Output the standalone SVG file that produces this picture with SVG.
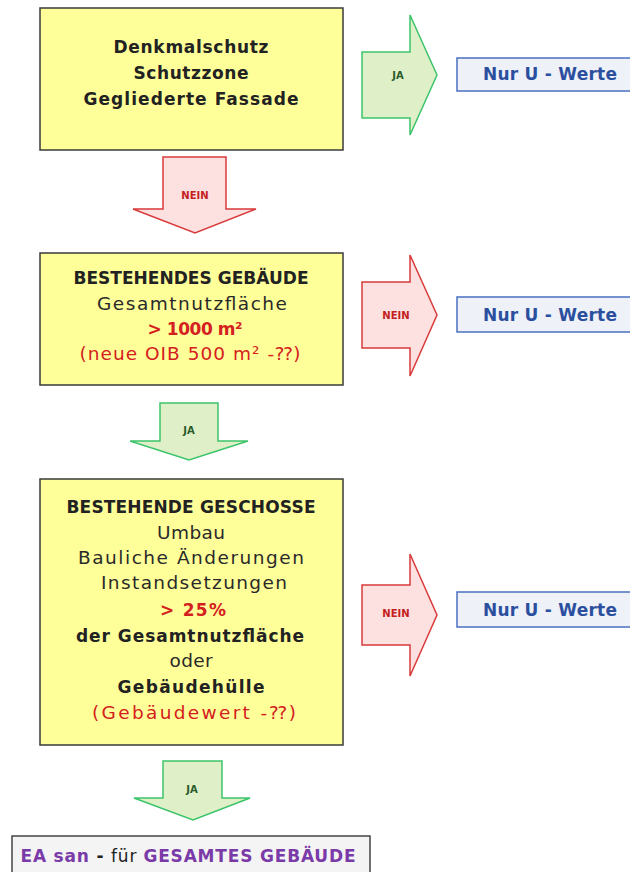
<svg xmlns="http://www.w3.org/2000/svg" width="630" height="872" viewBox="0 0 630 872">
<style>
.box{fill:#ffff99;stroke:#3a3a3a;stroke-width:1.5}
.res{fill:#eef1f8;stroke:#4a70c0;stroke-width:1.5}
.ga{fill:#dff0c8;stroke:#3cc46a;stroke-width:1.5;stroke-linejoin:miter}
.ra{fill:#fde0e0;stroke:#d93a3a;stroke-width:1.5}
text{font-family:"DejaVu Sans","Liberation Sans",sans-serif;text-anchor:middle}
.t{font-size:17px;fill:#222}
.r{font-size:18.5px;fill:#2a2a2a}
.b{font-weight:bold}
.red{fill:#d42020}
.blue{font-size:17px;font-weight:bold;fill:#2b4f9e}
.lbl{font-size:10px;font-weight:bold}
.glbl{fill:#2a5a2a}
.rlbl{fill:#c42020}
.pur{fill:#7a3aa8}
</style>
<g id="connectors">
<g id="arrow-ja-1"><path class="ga" d="M362,52 H410 V15 L437,75 L410,135 V118 H362 Z"/><text class="lbl glbl" x="398" y="79">JA</text></g>
<g id="arrow-nein-1"><path class="ra" d="M163,157 H226 V209 H256 L195,233 L133,209 H163 Z"/><text class="lbl rlbl" x="195" y="199">NEIN</text></g>
<g id="arrow-nein-2"><path class="ra" d="M362,282 H410 V255 L437,315 L410,376 V348 H362 Z"/><text class="lbl rlbl" x="396" y="319">NEIN</text></g>
<g id="arrow-ja-2"><path class="ga" d="M160,403 H218 V441 H248 L189,460 L130,441 H160 Z"/><text class="lbl glbl" x="189" y="434">JA</text></g>
<g id="arrow-nein-3"><path class="ra" d="M362,585 H410 V554 L437,615 L410,676 V645 H362 Z"/><text class="lbl rlbl" x="396" y="617">NEIN</text></g>
<g id="arrow-ja-3"><path class="ga" d="M163,761 H222 V798 H250 L193,820 L134,798 H163 Z"/><text class="lbl glbl" x="192" y="793">JA</text></g>
</g>
<g id="node-denkmal">
<rect class="box" x="40" y="8" width="303" height="142"/>
<text class="t b" x="191" y="53" textLength="155">Denkmalschutz</text>
<text class="t b" x="191" y="79" textLength="115">Schutzzone</text>
<text class="t b" x="191" y="105" textLength="215">Gegliederte Fassade</text>
</g>
<g id="node-result-1"><rect class="res" x="457" y="58" width="180" height="33"/><text class="blue" x="550" y="80" textLength="134">Nur U - Werte</text></g>
<g id="node-gebaeude">
<rect class="box" x="40" y="253" width="303" height="132"/>
<text class="t b" x="191" y="284" textLength="235">BESTEHENDES GEBÄUDE</text>
<text class="r" x="192" y="310" textLength="190">Gesamtnutzfläche</text>
<text class="t b red" x="195" y="335" textLength="95">&gt; 1000 m²</text>
<text class="r red" x="190" y="360" textLength="221">(neue OIB 500 m² -⁇)</text>
</g>
<g id="node-result-2"><rect class="res" x="457" y="297" width="180" height="35"/><text class="blue" x="550" y="321" textLength="134">Nur U - Werte</text></g>
<g id="node-geschosse">
<rect class="box" x="40" y="479" width="303" height="266"/>
<text class="t b" x="191" y="513" textLength="249">BESTEHENDE GESCHOSSE</text>
<text class="r" x="191" y="539" textLength="68">Umbau</text>
<text class="r" x="191" y="564" textLength="226">Bauliche Änderungen</text>
<text class="r" x="194" y="589" textLength="186">Instandsetzungen</text>
<text class="t b red" x="193" y="616" textLength="66">&gt; 25%</text>
<text class="t b" x="190" y="642" textLength="228">der Gesamtnutzfläche</text>
<text class="r" x="191" y="667" textLength="43">oder</text>
<text class="t b" x="191" y="693" textLength="147">Gebäudehülle</text>
<text class="r red" x="194" y="719" textLength="204">(Gebäudewert -⁇)</text>
</g>
<g id="node-result-3"><rect class="res" x="457" y="592" width="180" height="35"/><text class="blue" x="550" y="616" textLength="134">Nur U - Werte</text></g>
<g id="node-ea">
<rect x="12" y="836" width="358" height="44" fill="#f4f4f4" stroke="#444" stroke-width="1.5"/>
<text class="t" x="188" y="862" textLength="335"><tspan class="b pur">EA san</tspan><tspan class="b"> - </tspan>für <tspan class="b pur">GESAMTES GEBÄUDE</tspan></text>
</g>
</svg>
